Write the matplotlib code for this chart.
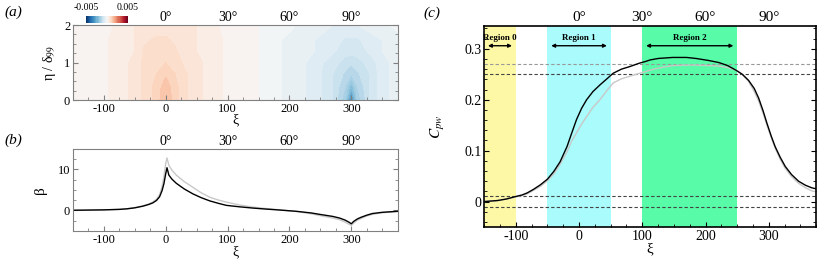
import numpy as np
import matplotlib
import matplotlib.pyplot as plt
from matplotlib.ticker import MultipleLocator

plt.rcParams['font.family'] = ['Liberation Serif', 'DejaVu Serif']
plt.rcParams['mathtext.fontset'] = 'stix'
plt.rcParams['axes.unicode_minus'] = False

# ---- panel (a): wall-normal contour field
xi_a = [-150, -100, -70, -50, -35, -15, 0, 15, 30, 50, 70, 100, 150, 175,
        200, 240, 270, 290, 300, 310, 330, 350, 375]
eta_a = [0.0, 0.35, 0.7, 1.0, 1.3, 1.6, 2.0]
field_a = [
    [0.0001, 0.0002, 0.0004, 0.0006, 0.0008, 0.0011, 0.0015, 0.0011, 0.0008, 0.0006, 0.0004, 0.0002,
     0.0000, -0.0002, -0.0003, -0.0006, -0.0010, -0.0017, -0.0032, -0.0017, -0.0010, -0.0006, -0.0004],
    [0.0001, 0.0002, 0.0004, 0.0006, 0.0008, 0.0011, 0.0014, 0.0011, 0.0008, 0.0006, 0.0004, 0.0002,
     0.0000, -0.0002, -0.0003, -0.0006, -0.0010, -0.0015, -0.0022, -0.0015, -0.0010, -0.0006, -0.0004],
    [0.0001, 0.0002, 0.0004, 0.0006, 0.0008, 0.0010, 0.0012, 0.0010, 0.0008, 0.0006, 0.0004, 0.0002,
     0.0000, -0.0002, -0.0003, -0.0006, -0.0010, -0.0013, -0.0015, -0.0013, -0.0010, -0.0006, -0.0004],
    [0.0001, 0.0002, 0.0004, 0.0006, 0.0008, 0.0009, 0.0010, 0.0009, 0.0007, 0.0006, 0.0004, 0.0002,
     0.0000, -0.0002, -0.0003, -0.0006, -0.0009, -0.0011, -0.0012, -0.0011, -0.0009, -0.0006, -0.0004],
    [0.0001, 0.0002, 0.0004, 0.0005, 0.0008, 0.0008, 0.0008, 0.0008, 0.0006, 0.0005, 0.0004, 0.0002,
     0.0000, -0.0002, -0.0003, -0.0005, -0.0007, -0.0009, -0.0009, -0.0009, -0.0007, -0.0005, -0.0004],
    [0.0001, 0.0002, 0.0004, 0.0005, 0.0007, 0.0008, 0.0008, 0.0007, 0.0006, 0.0005, 0.0004, 0.0002,
     0.0000, -0.0002, -0.0003, -0.0005, -0.0006, -0.0008, -0.0008, -0.0008, -0.0006, -0.0005, -0.0003],
    [0.0001, 0.0002, 0.0003, 0.0005, 0.0006, 0.0006, 0.0006, 0.0006, 0.0005, 0.0005, 0.0003, 0.0002,
     0.0000, -0.0001, -0.0002, -0.0004, -0.0005, -0.0005, -0.0005, -0.0005, -0.0004, -0.0003, -0.0002],
]

# ---- panel (b): beta along the wall
xi_b = [-150, -100, -75, -63, -50, -37, -28, -21, -15, -10, -6, -3, 0, 2, 5, 10, 17, 30, 44,
        57, 71, 85, 98, 119, 140, 157, 185, 211, 235, 253, 270, 281, 290, 296, 300, 304,
        310, 316, 325, 334, 350, 375]
beta_black = [0.0, 0.1, 0.22, 0.35, 0.6, 1.0, 1.4, 1.8, 2.4, 3.3, 4.8, 6.5, 9.0, 10.4, 8.6,
              7.6, 6.6, 5.2, 4.0, 3.1, 2.3, 1.7, 1.2, 0.85, 0.55, 0.35, 0.05, -0.25, -0.65,
              -1.1, -1.5, -1.9, -2.4, -2.9, -3.3, -2.7, -2.1, -1.7, -1.2, -0.8, -0.5, -0.25]
beta_grey = [0.0, 0.1, 0.22, 0.37, 0.65, 1.1, 1.5, 2.0, 2.7, 3.8, 5.8, 8.2, 11.5, 12.8, 11.0,
             9.8, 8.6, 7.0, 5.6, 4.3, 3.2, 2.5, 2.0, 1.3, 0.8, 0.5, 0.1, -0.3, -0.85,
             -1.4, -1.9, -2.3, -2.9, -3.4, -3.7, -3.1, -2.4, -2.0, -1.4, -1.0, -0.6, -0.3]

# ---- panel (c): wall pressure coefficient
xi_c = [-150, -140, -129, -115, -100, -90, -82, -72, -61, -50, -40, -30, -19, -12, -4, 4, 12,
        22, 33, 44, 54, 67, 80, 96, 105, 112, 125, 148, 170, 185, 205, 221, 235, 248, 258,
        268, 277, 284, 291, 297, 304, 310, 318, 326, 336, 347, 358, 368, 375]
cpw_black = [0.000, 0.001, 0.002, 0.005, 0.010, 0.013, 0.017, 0.024, 0.033, 0.044, 0.059,
             0.078, 0.108, 0.133, 0.161, 0.183, 0.200, 0.216, 0.229, 0.241, 0.252, 0.260,
             0.265, 0.272, 0.275, 0.278, 0.281, 0.283, 0.283, 0.281, 0.277, 0.273, 0.267,
             0.258, 0.250, 0.238, 0.222, 0.203, 0.178, 0.154, 0.128, 0.108, 0.087, 0.069,
             0.053, 0.040, 0.032, 0.027, 0.025]
cpw_grey = [0.000, 0.001, 0.002, 0.005, 0.009, 0.012, 0.015, 0.022, 0.030, 0.041, 0.054,
            0.073, 0.098, 0.118, 0.135, 0.152, 0.167, 0.185, 0.200, 0.218, 0.233, 0.241,
            0.246, 0.252, 0.255, 0.258, 0.262, 0.267, 0.268, 0.268, 0.267, 0.266, 0.263,
            0.258, 0.250, 0.236, 0.216, 0.197, 0.173, 0.150, 0.125, 0.105, 0.083, 0.065,
            0.049, 0.036, 0.027, 0.021, 0.019]
region_bounds = [(-150, -100), (-50, 50), (100, 250)]
region_names = ['Region 0', 'Region 1', 'Region 2']
region_colors = ['#fdf8a6', '#aafbfb', '#58fba8']
hlines_light = [0.27]
hlines_dark = [0.25, 0.01, -0.01]

deg_pos = [0, 100, 200, 300]
deg_labels = ['0°', '30°', '60°', '90°']

fig = plt.figure(figsize=(8.22, 2.64), dpi=100)
ax_a = fig.add_axes([0.0888, 0.621, 0.395, 0.284])
ax_b = fig.add_axes([0.0888, 0.126, 0.395, 0.310])
ax_c = fig.add_axes([0.589, 0.140, 0.404, 0.762])


def style(ax, spine_col, fs):
    ax.tick_params(which='both', direction='in', top=True, right=True, labelsize=fs,
                   color=spine_col, pad=2)
    ax.tick_params(which='major', length=3.5)
    ax.tick_params(which='minor', length=2)
    for s in ax.spines.values():
        s.set_color(spine_col)
    top = ax.twiny()
    top.set_xlim(ax.get_xlim())
    top.set_xticks(deg_pos)
    top.set_xticklabels(deg_labels)
    top.tick_params(length=0, labelsize=fs + 1, pad=1)
    for s in top.spines.values():
        s.set_visible(False)


# (a)
levels = np.linspace(-0.005, 0.005, 41)
cf = ax_a.contourf(xi_a, eta_a, np.array(field_a), levels=levels, cmap='RdBu_r')
ax_a.set_xlim(-150, 375)
ax_a.set_ylim(0, 2)
ax_a.set_xticks([-100, 0, 100, 200, 300])
ax_a.set_yticks([0, 1, 2])
ax_a.xaxis.set_minor_locator(MultipleLocator(25))
ax_a.yaxis.set_minor_locator(MultipleLocator(0.25))
ax_a.set_xlabel('ξ', fontsize=10, labelpad=-1)
ax_a.set_ylabel('η / δ$_{99}$', fontsize=10, labelpad=4)
style(ax_a, '#808080', 9)

cax = fig.add_axes([0.1046, 0.914, 0.051, 0.0265])
cb = fig.colorbar(cf, cax=cax, orientation='horizontal')
cb.set_ticks([])
cb.outline.set_visible(False)
fig.text(0.1046, 0.955, '-0.005', fontsize=7, ha='center', va='bottom')
fig.text(0.1556, 0.955, '0.005', fontsize=7, ha='center', va='bottom')

# (b)
ax_b.plot(xi_b, beta_grey, color='#c8c8c8', lw=1)
ax_b.plot(xi_b, beta_black, color='black', lw=1)
ax_b.set_xlim(-150, 375)
ax_b.set_ylim(-5, 15)
ax_b.set_xticks([-100, 0, 100, 200, 300])
ax_b.set_yticks([0, 10])
ax_b.xaxis.set_minor_locator(MultipleLocator(25))
ax_b.yaxis.set_minor_locator(MultipleLocator(2.5))
ax_b.set_xlabel('ξ', fontsize=10, labelpad=0)
ax_b.set_ylabel('β', fontsize=11, labelpad=8)
style(ax_b, '#808080', 9)

# (c)
for (x0, x1), name, col in zip(region_bounds, region_names, region_colors):
    ax_c.axvspan(x0, x1, color=col, lw=0)
    ax_c.annotate('', xy=(x0 + 6, 0.306), xytext=(x1 - 6, 0.306),
                  arrowprops=dict(arrowstyle='<|-|>', color='black', lw=1,
                                  mutation_scale=5, shrinkA=0, shrinkB=0))
    ax_c.text((x0 + x1) / 2, 0.322, name, fontsize=6.5, fontweight='bold', ha='center',
              va='center')
for y in hlines_light:
    ax_c.axhline(y, color='#999999', lw=0.8, ls=(0, (3, 2)))
for y in hlines_dark:
    ax_c.axhline(y, color='#444444', lw=0.8, ls=(0, (3, 2)))
ax_c.plot(xi_c, cpw_grey, color='#c8c8c8', lw=1)
ax_c.plot(xi_c, cpw_black, color='black', lw=1)
ax_c.set_xlim(-150, 375)
ax_c.set_ylim(-0.05, 0.345)
ax_c.set_xticks([-100, 0, 100, 200, 300])
ax_c.set_yticks([0, 0.1, 0.2, 0.3])
ax_c.set_yticklabels(['0', '0.1', '0.2', '0.3'])
ax_c.xaxis.set_minor_locator(MultipleLocator(25))
ax_c.yaxis.set_minor_locator(MultipleLocator(0.02))
ax_c.set_xlabel('ξ', fontsize=11, labelpad=0)
ax_c.set_ylabel('$C_{pw}$', fontsize=11, labelpad=12)
style(ax_c, 'black', 10)
for s in ax_c.spines.values():
    s.set_linewidth(1.2)

fig.text(0.006, 0.955, '(a)', fontsize=11, style='italic', va='center')
fig.text(0.006, 0.47, '(b)', fontsize=11, style='italic', va='center')
fig.text(0.515, 0.95, '(c)', fontsize=11, style='italic', va='center')

fig.savefig('out.png', dpi=100)
